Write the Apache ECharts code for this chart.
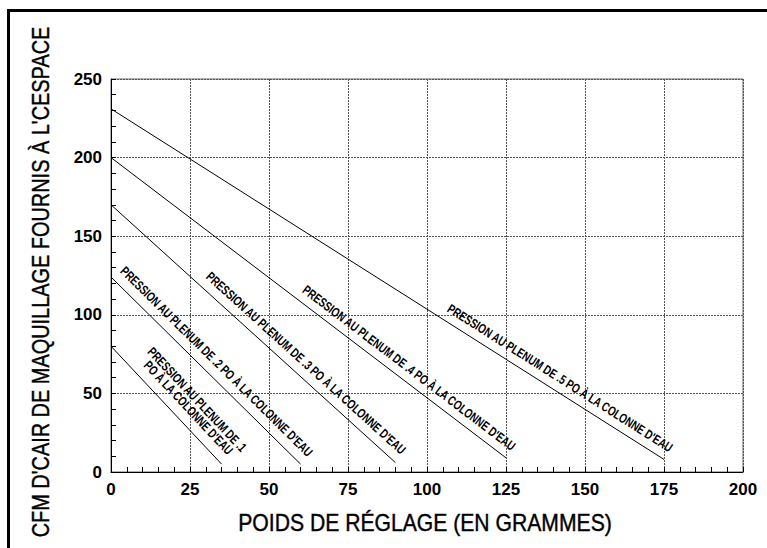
<!DOCTYPE html>
<html>
<head>
<meta charset="utf-8">
<script src="https://cdn.jsdelivr.net/npm/echarts@6/dist/echarts.min.js"></script>
<style>html,body{margin:0;padding:0;background:#fff}#c{width:767px;height:548px}</style>
</head>
<body>
<div id="c"></div>
<script>
// ---- data ----
const weights1 = [0, 35];   const cfm1 = [80, 5];
const weights2 = [0, 60];   const cfm2 = [124, 5];
const weights3 = [0, 90];   const cfm3 = [170, 6];
const weights4 = [0, 125];  const cfm4 = [200, 9];
const weights5 = [0, 175];  const cfm5 = [231, 8];
const curveLabels = [
  "PRESSION AU PLENUM DE .1\nPO \u00C0 LA COLONNE D'EAU",
  "PRESSION AU PLENUM DE .2 PO \u00C0 LA COLONNE D'EAU",
  "PRESSION AU PLENUM DE .3 PO \u00C0 LA COLONNE D'EAU",
  "PRESSION AU PLENUM DE .4 PO \u00C0 LA COLONNE D'EAU",
  "PRESSION AU PLENUM DE .5 PO \u00C0 LA COLONNE D'EAU"
];
const xTitle = "POIDS DE R\u00C9GLAGE (EN GRAMMES)";
const yTitle = "CFM D'CAIR DE MAQUILLAGE FOURNIS \u00C0 L'CESPACE";
const xMin = 0, xMax = 200, xStep = 25;
const yMin = 0, yMax = 250, yStep = 50;

// label anchor points (data space) - placement only
const labelAnchors = [[25.9, 43.5], [33.4, 70.3], [61.7, 69.3], [94.3, 66.2], [142.1, 59.8]];

const allW = [weights1, weights2, weights3, weights4, weights5];
const allC = [cfm1, cfm2, cfm3, cfm4, cfm5];

const chart = echarts.init(document.getElementById('c'), null, {renderer: 'svg'});
const FONT = "'Liberation Sans', Arial, Helvetica, sans-serif";

const series = allW.map((w, i) => ({
  type: 'line',
  data: w.map((x, j) => [x, allC[i][j]]),
  symbol: 'none',
  silent: true,
  lineStyle: {color: '#000', width: 1},
  z: 3
}));

chart.setOption({
  animation: false,
  backgroundColor: '#fff',
  grid: {left: 111, right: 24, top: 79, bottom: 76, show: true, borderColor: '#666', borderWidth: 1, backgroundColor: 'transparent'},
  xAxis: {
    type: 'value', min: xMin, max: xMax, interval: xStep,
    axisLine: {show: true, onZero: false, lineStyle: {color: '#000', width: 1}},
    axisTick: {show: true, inside: true, length: 5, lineStyle: {color: '#000'}},
    minorTick: {show: true, splitNumber: 5, length: 5, lineStyle: {color: '#000'}},
    axisLabel: {color: '#000', fontSize: 17, fontWeight: 'bold', fontFamily: FONT, margin: 9},
    splitLine: {show: true, lineStyle: {color: '#555', type: [2, 1], width: 1}}
  },
  yAxis: {
    type: 'value', min: yMin, max: yMax, interval: yStep,
    axisLine: {show: true, onZero: false, lineStyle: {color: '#000', width: 1}},
    axisTick: {show: true, inside: true, length: 5, lineStyle: {color: '#000'}},
    minorTick: {show: true, splitNumber: 5, length: 5, lineStyle: {color: '#000'}},
    axisLabel: {color: '#000', fontSize: 17, fontWeight: 'bold', fontFamily: FONT, margin: 9},
    splitLine: {show: true, lineStyle: {color: '#555', type: [2, 1], width: 1}}
  },
  series: series
});

// graphics: frame, titles, rotated curve labels
const graphics = [
  {type: 'rect', shape: {x: 7, y: 9, width: 770, height: 3}, style: {fill: '#000'}, silent: true},
  {type: 'rect', shape: {x: 7, y: 9, width: 3, height: 560}, style: {fill: '#000'}, silent: true},
  {type: 'text', x: 40.5, y: 282, rotation: Math.PI / 2, scaleX: 0.83,
    style: {text: yTitle, fontSize: 24, fontFamily: FONT, fill: '#000', align: 'center', verticalAlign: 'middle',
      stroke: '#000', lineWidth: 0.4}},
  {type: 'text', x: 425, y: 523, scaleX: 0.92,
    style: {text: xTitle, fontSize: 23, fontFamily: FONT, fill: '#000', align: 'center', verticalAlign: 'middle',
      stroke: '#000', lineWidth: 0.4}}
];

allW.forEach((w, i) => {
  const p0 = chart.convertToPixel({gridIndex: 0}, [w[0], allC[i][0]]);
  const p1 = chart.convertToPixel({gridIndex: 0}, [w[w.length - 1], allC[i][allC[i].length - 1]]);
  const ang = Math.atan2(p1[1] - p0[1], p1[0] - p0[0]);
  const c = chart.convertToPixel({gridIndex: 0}, labelAnchors[i]);
  graphics.push({
    type: 'text', x: c[0], y: c[1], rotation: -ang, scaleX: 0.75, z: 10,
    style: {text: curveLabels[i], fontSize: 13, fontWeight: 'bold', fontFamily: FONT, fill: '#000',
      align: 'center', verticalAlign: 'middle', lineHeight: 12}
  });
});

chart.setOption({graphic: graphics});
</script>
</body>
</html>
